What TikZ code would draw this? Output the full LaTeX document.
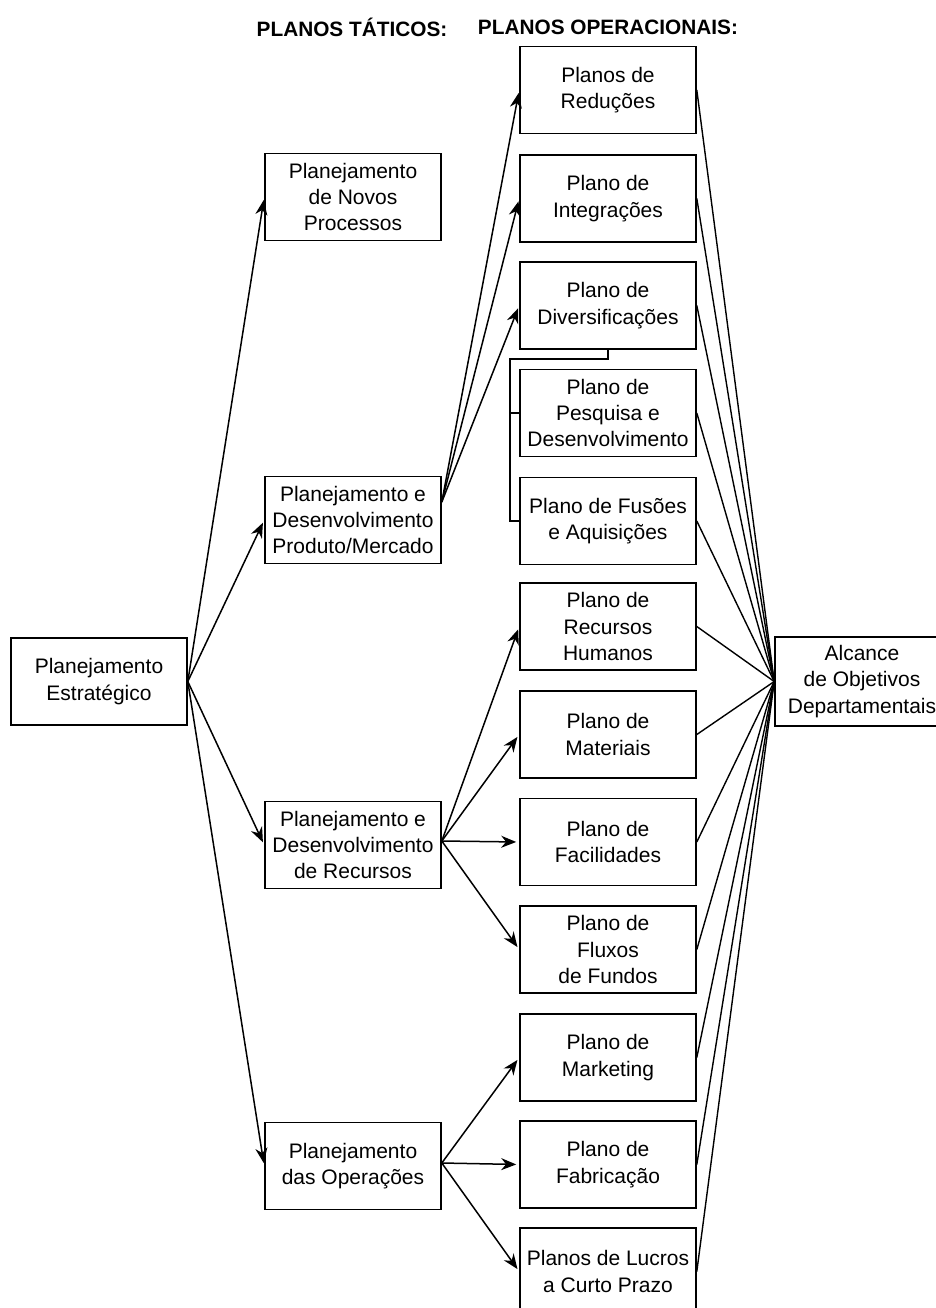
\documentclass[tikz,border=0pt]{standalone}
\usepackage{fontspec}
\setmainfont{Liberation Sans}
\usetikzlibrary{arrows.meta,calc}
\begin{document}
\begin{tikzpicture}[x=0.5pt,y=-0.5pt,
  box/.style={draw, line width=0.8pt, minimum width=88pt, minimum height=43.5pt,
    inner sep=0pt, align=center, font=\fontsize{10.5}{13.2}\selectfont},
  txt/.style={inner sep=0pt, align=center, font=\fontsize{10.5}{13.2}\selectfont},
  head/.style={font=\bfseries\fontsize{10.4}{12}\selectfont, inner sep=0pt},
  conn/.style={line width=0.7pt},
  arr/.style={line width=0.75pt, shorten >=1.5pt, -{Stealth[length=7.5pt,width=6pt]}}]
\useasboundingbox (0,0) rectangle (936,1308);
\clip (0,0) rectangle (936,1308);
% headers
\node[head] (h1) at (352,27) {PLANOS TÁTICOS:};
\node[head] (h2) at (608,27) {PLANOS OPERACIONAIS:};
% strategic and goal
\node[box] (est) at (99,681.5) {Planejamento\\Estratégico};
\node[box, minimum width=92pt, minimum height=44.5pt] (alc) at (867,681.5) {};
\node[txt] (alct) at (862,681.5) {Alcance\\de Objetivos\\Departamentais};
% tactical
\node[box] (npr) at (353,197) {Planejamento\\de Novos\\Processos};
\node[box] (pm) at (353,520) {Planejamento e\\Desenvolvimento\\Produto/Mercado};
\node[box] (rec) at (353,845) {Planejamento e\\Desenvolvimento\\de Recursos};
\node[box] (ope) at (353,1166) {Planejamento\\das Operações};
% operational
\node[box] (red) at (608,90) {Planos de\\Reduções};
\node[box] (int) at (608,198.5) {Plano de\\Integrações};
\node[box] (div) at (608,305.5) {Plano de\\Diversificações};
\node[box] (pes) at (608,413) {Plano de\\Pesquisa e\\Desenvolvimento};
\node[box] (fus) at (608,521) {Plano de Fusões\\e Aquisições};
\node[box] (rh) at (608,626.5) {Plano de\\Recursos\\Humanos};
\node[box] (mat) at (608,734.5) {Plano de\\Materiais};
\node[box] (fac) at (608,842) {Plano de\\Facilidades};
\node[box] (flu) at (608,949.5) {Plano de\\Fluxos\\de Fundos};
\node[box] (mkt) at (608,1057.5) {Plano de\\Marketing};
\node[box] (fab) at (608,1164.5) {Plano de\\Fabricação};
\node[box] (luc) at (608,1271.5) {Planos de Lucros\\a Curto Prazo};
% strategic -> tactical
\foreach \t in {npr,pm,rec,ope} \draw[arr] (est.east) -- (\t.west);
% tactical -> operational
\coordinate (pmo) at ($(pm.east)+(0,-18)$);
\coordinate (reco) at ($(rec.east)+(0,-4)$);
\coordinate (opeo) at ($(ope.east)+(0,-3)$);
\foreach \t in {red,int,div} \draw[arr] (pmo) -- (\t.west);
\foreach \t in {rh,mat,fac,flu} \draw[arr] (reco) -- (\t.west);
\foreach \t in {mkt,fab,luc} \draw[arr] (opeo) -- (\t.west);
% bracket
\coordinate (bk) at ($(div.south)+(-98,9)$);
\draw[conn] (div.south) -- (div.south |- bk) -- (bk) |- (fus.west);
\draw[conn] (bk |- pes.west) -- (pes.west);
% operational -> goal
\foreach \t in {red,int,div,pes,fus,rh,mat,fac,flu,mkt,fab,luc} \draw[conn] (\t.east) -- (alc.west);
\end{tikzpicture}
\end{document}
